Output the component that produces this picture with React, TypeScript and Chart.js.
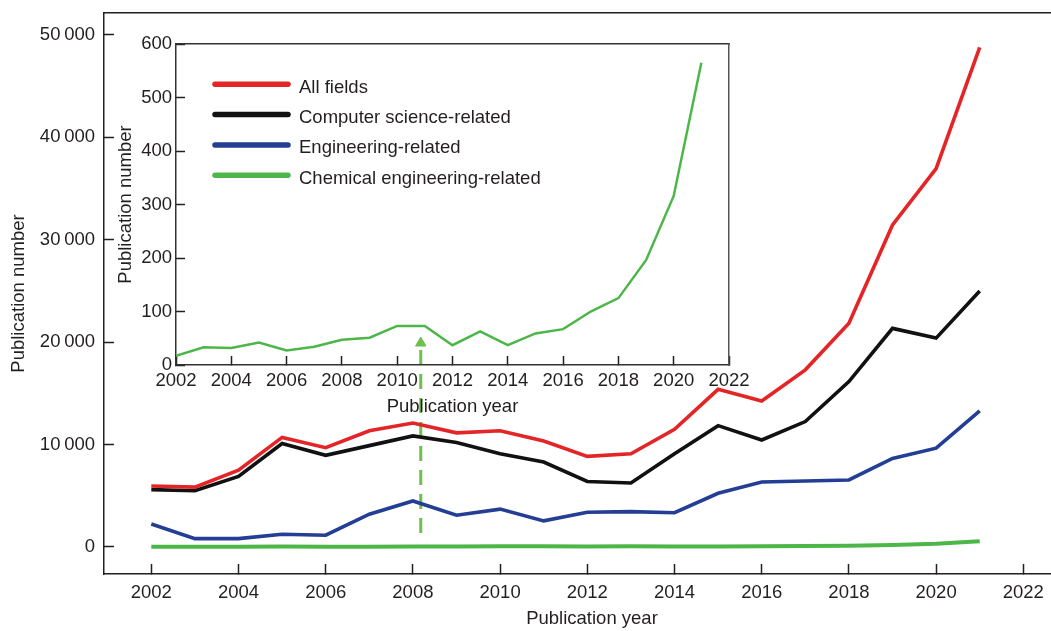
import { useEffect, useRef } from 'react';
import { Chart, registerables } from 'chart.js';

Chart.register(...registerables);

// ---------- data ----------
const years = [2002, 2003, 2004, 2005, 2006, 2007, 2008, 2009, 2010, 2011, 2012, 2013, 2014, 2015, 2016, 2017, 2018, 2019, 2020, 2021];
const allFields = [5950, 5850, 7500, 10700, 9700, 11350, 12100, 11150, 11350, 10350, 8850, 9100, 11500, 15400, 14250, 17300, 21850, 31450, 36950, 48800];
const computerScience = [5600, 5500, 6900, 10100, 8950, 9900, 10850, 10200, 9100, 8300, 6400, 6250, 9100, 11850, 10450, 12250, 16150, 21350, 20400, 25000];
const engineering = [2250, 820, 820, 1250, 1150, 3200, 4500, 3100, 3700, 2550, 3400, 3450, 3350, 5250, 6350, 6450, 6550, 8650, 9650, 13300];
const chemicalEngineering = [17, 33, 32, 42, 27, 34, 47, 51, 73, 73, 37, 63, 37, 59, 67, 100, 125, 196, 316, 565];

const seriesLabels = ['All fields', 'Computer science-related', 'Engineering-related', 'Chemical engineering-related'];
const seriesColors = ['#e42528', '#111111', '#233e94', '#4cb748'];

const mainXTicks = [2002, 2004, 2006, 2008, 2010, 2012, 2014, 2016, 2018, 2020, 2022];
const mainYTicks = [0, 10000, 20000, 30000, 40000, 50000];
const insetXTicks = [2002, 2004, 2006, 2008, 2010, 2012, 2014, 2016, 2018, 2020, 2022];
const insetYTicks = [0, 100, 200, 300, 400, 500, 600];

// dashed pointer arrow (from main-chart green line up into the inset)
const arrowX = [2008.18, 2008.18];
const arrowY = [1370, 19920];

const xTitle = 'Publication year';
const yTitle = 'Publication number';

// ---------- styles ----------
const family = "'Liberation Sans', Arial, Helvetica, sans-serif";
const font = { family, size: 18.5 };
const ink = '#231f20';
const arrowColor = '#6dc04a';

const fmt = (v: number) => String(v).replace(/\B(?=(\d{3})+(?!\d))/g, '\u2009');
const pts = (vals: number[]) => years.map((yr, i) => ({ x: yr, y: vals[i] }));
const pairPts = (xs: number[], ys: number[]) => xs.map((x, i) => ({ x, y: ys[i] }));

const noPad = (s: any) => {
  s.paddingTop = 0;
  s.paddingBottom = 0;
  s.paddingLeft = 0;
  s.paddingRight = 0;
};
const fixH = (h: number) => (s: any) => { s.height = h; noPad(s); };
const fixW = (w: number) => (s: any) => { s.width = w; noPad(s); };

const insetLegend = {
  id: 'insetLegend',
  afterDraw(chart: any) {
    const { ctx, chartArea } = chart;
    ctx.save();
    ctx.font = `18.5px ${family}`;
    ctx.textBaseline = 'middle';
    ctx.textAlign = 'left';
    seriesLabels.forEach((lab, i) => {
      const y = chartArea.top + 40.3 + i * 30.3;
      ctx.strokeStyle = seriesColors[i];
      ctx.lineWidth = 5.5;
      ctx.lineCap = 'round';
      ctx.beginPath();
      ctx.moveTo(chartArea.left + 39, y);
      ctx.lineTo(chartArea.left + 112, y);
      ctx.stroke();
      ctx.fillStyle = ink;
      ctx.fillText(lab, chartArea.left + 123, y + 3.3);
    });
    ctx.restore();
  },
};

export default function App() {
  const mainRef = useRef<HTMLCanvasElement>(null);
  const insetRef = useRef<HTMLCanvasElement>(null);

  useEffect(() => {
    const lineDs = (label: string, vals: number[], color: string, width: number) => ({
      label,
      data: pts(vals),
      borderColor: color,
      backgroundColor: color,
      borderWidth: width,
      pointRadius: 0,
      tension: 0,
      fill: false,
    });

    const main = new Chart(mainRef.current!, {
      type: 'line',
      data: {
        datasets: [
          lineDs(seriesLabels[0], allFields, seriesColors[0], 3.6),
          lineDs(seriesLabels[1], computerScience, seriesColors[1], 3.6),
          lineDs(seriesLabels[2], engineering, seriesColors[2], 3.6),
          lineDs(seriesLabels[3], chemicalEngineering, seriesColors[3], 4),
          {
            label: 'pointer',
            data: pairPts(arrowX, arrowY),
            borderColor: arrowColor,
            backgroundColor: arrowColor,
            borderWidth: 3,
            borderDash: [15, 9],
            pointStyle: 'triangle',
            pointRadius: (c: any) => (c.dataIndex === 1 ? 6 : 0),
            pointBorderWidth: 1,
            pointBackgroundColor: arrowColor,
            pointBorderColor: arrowColor,
            fill: false,
          } as any,
        ],
      },
      options: {
        responsive: false,
        animation: false,
        events: [],
        layout: { autoPadding: false, padding: 0 },
        plugins: { legend: { display: false }, tooltip: { enabled: false } },
        scales: {
          x: {
            type: 'linear',
            position: 'bottom',
            min: 2000.915,
            max: 2023.3,
            afterBuildTicks: (s: any) => { s.ticks = mainXTicks.map((v) => ({ value: v })); },
            afterFit: fixH(57),
            ticks: { font, color: ink, padding: 18, autoSkip: false, maxRotation: 0, callback: (v: any) => String(v) },
            grid: { display: true, drawOnChartArea: false, drawTicks: true, tickLength: -10, tickColor: ink, tickWidth: 1.5 },
            border: { display: true, color: ink, width: 1.5 },
            title: { display: true, text: xTitle, font, color: ink, padding: { top: 0, bottom: 1 } },
          },
          xTop: {
            type: 'linear',
            position: 'top',
            min: 2000.915,
            max: 2023.3,
            afterFit: fixH(13),
            ticks: { display: false },
            grid: { display: false },
            border: { display: true, color: ink, width: 1.5 },
          },
          y: {
            type: 'linear',
            position: 'left',
            min: -2637,
            max: 52148,
            afterBuildTicks: (s: any) => { s.ticks = mainYTicks.map((v) => ({ value: v })); },
            afterFit: fixW(104),
            ticks: { font, color: ink, padding: 19, autoSkip: false, callback: (v: any) => fmt(v) },
            grid: { display: true, drawOnChartArea: false, drawTicks: true, tickLength: -10, tickColor: ink, tickWidth: 1.5 },
            border: { display: true, color: ink, width: 1.5 },
            title: { display: true, text: yTitle, font, color: ink, padding: { top: 8, bottom: 0 } },
          },
        },
      } as any,
    });

    const inset = new Chart(insetRef.current!, {
      type: 'line',
      data: {
        datasets: [lineDs(seriesLabels[3], chemicalEngineering, seriesColors[3], 2.5)],
      },
      options: {
        responsive: false,
        animation: false,
        events: [],
        layout: { autoPadding: false, padding: 0 },
        plugins: { legend: { display: false }, tooltip: { enabled: false } },
        scales: {
          x: {
            type: 'linear',
            position: 'bottom',
            min: 2002,
            max: 2022,
            afterBuildTicks: (s: any) => { s.ticks = insetXTicks.map((v) => ({ value: v })); },
            afterFit: fixH(69),
            ticks: { font, color: ink, padding: 13.5, autoSkip: false, maxRotation: 0, callback: (v: any) => String(v) },
            grid: { display: true, drawOnChartArea: false, drawTicks: true, tickLength: -9, tickColor: ink, tickWidth: 1.5 },
            border: { display: true, color: '#333', width: 1.5 },
            title: { display: true, text: xTitle, font, color: ink, padding: { top: 0, bottom: 15.6 } },
          },
          xTop: {
            type: 'linear',
            position: 'top',
            min: 2002,
            max: 2022,
            afterFit: fixH(10),
            ticks: { display: false },
            grid: { display: false },
            border: { display: true, color: '#333', width: 1.5 },
          },
          y: {
            type: 'linear',
            position: 'left',
            min: 0,
            max: 600,
            afterBuildTicks: (s: any) => { s.ticks = insetYTicks.map((v) => ({ value: v })); },
            afterFit: fixW(70),
            ticks: { font, color: ink, padding: 13, autoSkip: false, callback: (v: any) => String(v) },
            grid: { display: true, drawOnChartArea: false, drawTicks: true, tickLength: -9, tickColor: ink, tickWidth: 1.5 },
            border: { display: true, color: '#333', width: 1.5 },
            title: { display: true, text: yTitle, font, color: ink, padding: { top: 8.9, bottom: 0 } },
          },
          yRight: {
            type: 'linear',
            position: 'right',
            min: 0,
            max: 600,
            afterFit: fixW(37),
            ticks: { display: false },
            grid: { display: false },
            border: { display: true, color: '#555', width: 1.5 },
          },
        },
      } as any,
      plugins: [insetLegend],
    });

    return () => {
      main.destroy();
      inset.destroy();
    };
  }, []);

  return (
    <div style={{ position: 'absolute', left: 0, top: 0, width: 1051, height: 631, overflow: 'hidden', background: '#fff' }}>
      <canvas ref={mainRef} width={1080} height={631} style={{ position: 'absolute', left: 0, top: 0 }} />
      <canvas ref={insetRef} width={660} height={400} style={{ position: 'absolute', left: 106, top: 34 }} />
    </div>
  );
}
